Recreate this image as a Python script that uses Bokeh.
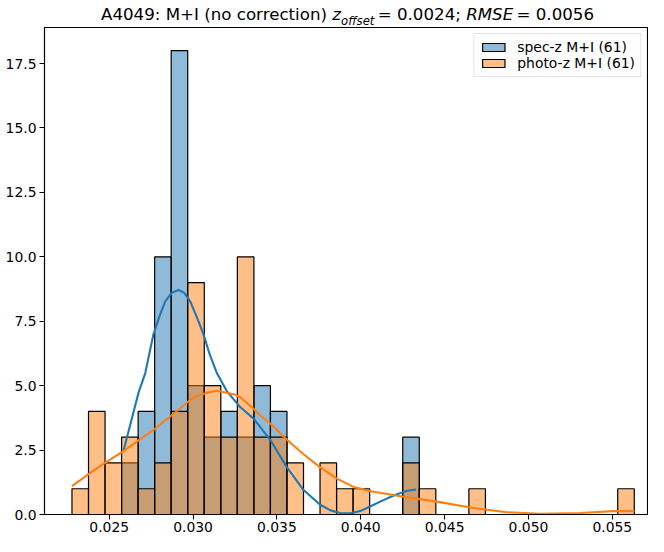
import numpy as np
from bokeh.plotting import figure
from bokeh.layouts import column
from bokeh.models import (ColumnDataSource, FixedTicker, PrintfTickFormatter, Div,
                          Range1d, Legend, LegendItem)
from bokeh.embed import file_html
from bokeh.resources import INLINE

# ---------------- data ----------------
bin_lo = 0.02278
bin_hi = 0.05631
n_bins = 34
spec_counts = [0, 0, 0, 2, 4, 10, 18, 5, 3, 4, 3, 5, 4, 0, 0, 0, 0, 0, 0, 0,
               3, 0, 0, 0, 0, 0, 0, 0, 0, 0, 0, 0, 0, 0]
photo_counts = [1, 4, 2, 3, 1, 2, 4, 9, 5, 3, 10, 3, 3, 2, 0, 2, 1, 1, 0, 0,
                2, 1, 0, 0, 1, 0, 0, 0, 0, 0, 0, 0, 0, 1]

spec_kde_x = [0.02585, 0.02625, 0.02675, 0.02715, 0.02764, 0.02800, 0.02834, 0.02873,
              0.02913, 0.02948, 0.02983, 0.03020, 0.03062, 0.03100, 0.03142, 0.03200,
              0.03281, 0.03361, 0.03460, 0.03560, 0.03659, 0.03758, 0.03820, 0.03877,
              0.03937, 0.04000, 0.04037, 0.04116, 0.04200, 0.04275, 0.04330]
spec_kde_y = [2.46, 3.47, 4.73, 5.49, 7.00, 7.70, 8.27, 8.60,
              8.71, 8.60, 8.27, 7.70, 7.00, 6.20, 5.49, 4.80,
              4.17, 3.72, 2.90, 1.83, 0.95, 0.38, 0.16, 0.06,
              0.05, 0.14, 0.25, 0.50, 0.75, 0.92, 0.97]

photo_kde_x = [0.02278, 0.02406, 0.02466, 0.02585, 0.02764, 0.02883, 0.03003, 0.03080,
               0.03142, 0.03241, 0.03281, 0.03361, 0.03400, 0.03460, 0.03560, 0.03659,
               0.03758, 0.03858, 0.03957, 0.04076, 0.04255, 0.04454, 0.04672, 0.04871,
               0.05070, 0.05309, 0.05507, 0.05631]
photo_kde_y = [1.10, 1.70, 1.96, 2.46, 3.28, 3.91, 4.55, 4.72,
               4.80, 4.67, 4.55, 4.10, 3.85, 3.53, 2.90, 2.34,
               1.83, 1.39, 1.07, 0.88, 0.69, 0.50, 0.25, 0.09,
               0.03, 0.06, 0.13, 0.13]

spec_label = "spec-z M+I (61)"
photo_label = "photo-z M+I (61)"
title_name = "A4049: M+I (no correction)"
title_z = "z"
title_sub = "offset"
title_zval = "= 0.0024;"
title_rmse = "RMSE"
title_rval = "= 0.0056"
x_ticks = [0.025, 0.030, 0.035, 0.040, 0.045, 0.050, 0.055]
y_ticks = [0.0, 2.5, 5.0, 7.5, 10.0, 12.5, 15.0, 17.5]
y_max = 18.9

# ---------------- layout ----------------
W = 648
TH = 26                      # title strip height
PH = 536 - TH                # main plot height
frame_left, frame_right = 44, 647
px_per_x = 16770.0           # pixels per unit of x
x_start = 0.025 - (108.7 - frame_left) / px_per_x
x_end = x_start + (frame_right - frame_left) / px_per_x

# ---- title: upright text, italic math symbols and a subscript ----
title_html = (
    '<div style="font-family:\'DejaVu Sans\';font-size:16.67px;color:black;'
    'white-space:nowrap;margin:0;padding:4.5px 0 0 101px;line-height:20px;">'
    f'{title_name} <i>{title_z}</i>'
    f'<i style="font-size:11.67px;vertical-align:-4.5px;">{title_sub}</i>'
    f'&#8201;{title_zval} <i>{title_rmse}</i>&#8201;{title_rval}</div>'
)
t = Div(text=title_html, width=W, height=TH, margin=(0, 0, 0, 0))

# ---- main plot ----
p = figure(width=W, height=PH, output_backend="svg", toolbar_location=None,
           title=None,
           x_range=Range1d(x_start, x_end), y_range=Range1d(0, y_max),
           min_border_left=frame_left, min_border_right=W - frame_right,
           min_border_top=1, min_border_bottom=22)
p.xgrid.visible = False
p.ygrid.visible = False
p.outline_line_color = "black"
p.outline_line_width = 1.1
p.background_fill_color = "white"
p.border_fill_color = "white"

edges = np.linspace(bin_lo, bin_hi, n_bins + 1)

def hist_source(counts):
    c = np.asarray(counts, dtype=float)
    m = c > 0
    return ColumnDataSource(dict(left=edges[:-1][m], right=edges[1:][m],
                                 top=c[m], bottom=np.zeros(m.sum())))

r_spec = p.quad(left="left", right="right", top="top", bottom="bottom",
                source=hist_source(spec_counts), fill_color="#1f77b4", fill_alpha=0.5,
                line_color="black", line_width=1.2)
r_photo = p.quad(left="left", right="right", top="top", bottom="bottom",
                 source=hist_source(photo_counts), fill_color="#ff7f0e", fill_alpha=0.5,
                 line_color="black", line_width=1.2)
p.line(spec_kde_x, spec_kde_y, line_color="#1f77b4", line_width=2.1, line_join="round")
p.line(photo_kde_x, photo_kde_y, line_color="#ff7f0e", line_width=2.1, line_join="round")

for ax, ticks, fmt in ((p.xaxis[0], x_ticks, "%.3f"), (p.yaxis[0], y_ticks, "%.1f")):
    ax.ticker = FixedTicker(ticks=ticks)
    ax.formatter = PrintfTickFormatter(format=fmt)
    ax.axis_line_color = "black"
    ax.axis_line_width = 1.1
    ax.major_tick_line_color = "black"
    ax.major_tick_line_width = 1.1
    ax.major_tick_out = 5
    ax.major_tick_in = 0
    ax.minor_tick_out = 0
    ax.minor_tick_in = 0
    ax.major_label_text_font = "DejaVu Sans"
    ax.major_label_text_font_size = "13.9px"
    ax.major_label_text_color = "black"
p.xaxis[0].major_label_standoff = 2
p.yaxis[0].major_label_standoff = 3

legend = Legend(items=[LegendItem(label=spec_label, renderers=[r_spec]),
                       LegendItem(label=photo_label, renderers=[r_photo])],
                location="top_right", margin=6,
                label_text_font="DejaVu Sans", label_text_font_size="13.9px",
                label_text_color="black",
                glyph_width=28, glyph_height=10, label_height=14,
                label_standoff=10, spacing=0, padding=5,
                border_line_color="#cccccc", border_line_width=1,
                background_fill_color="white", background_fill_alpha=0.8)
p.add_layout(legend, "center")

layout = column(t, p, spacing=0)
open("out.html", "w").write(file_html(layout, INLINE))
